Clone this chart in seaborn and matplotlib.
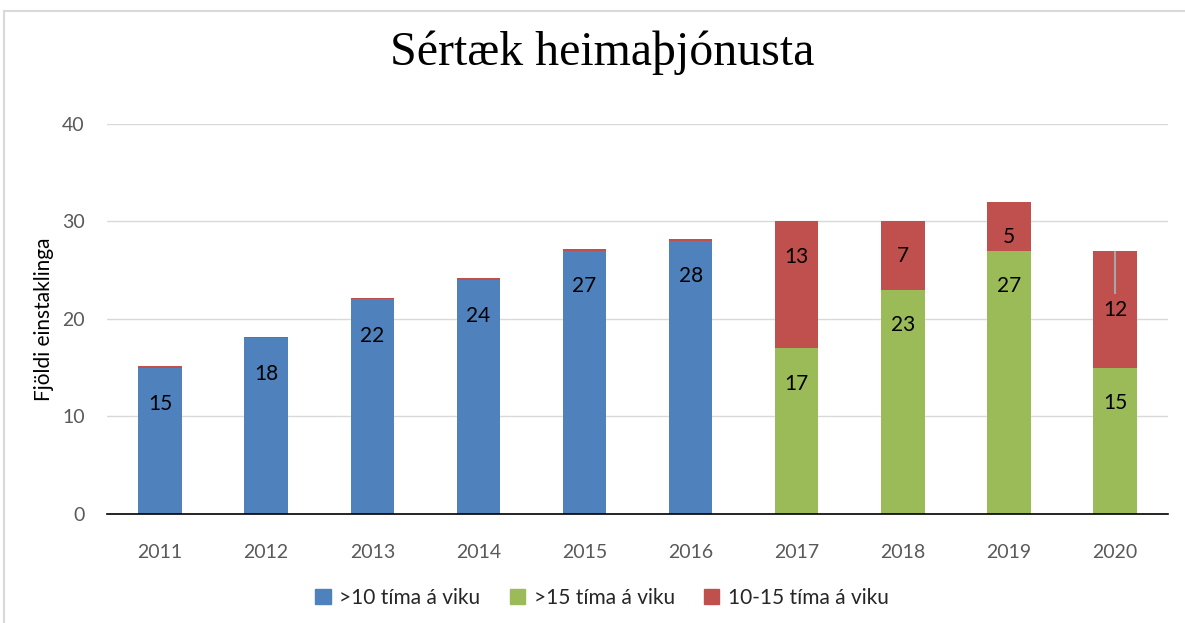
import numpy as np
import pandas as pd
import matplotlib
matplotlib.use("Agg")
import matplotlib.pyplot as plt
import seaborn as sns

years = ["2011", "2012", "2013", "2014", "2015", "2016", "2017", "2018", "2019", "2020"]
over10 = [15, 18, 22, 24, 27, 28, 0, 0, 0, 0]
over15 = [0, 0, 0, 0, 0, 0, 17, 23, 27, 15]
mid10_15 = [0.2, 0.2, 0.2, 0.2, 0.2, 0.2, 13, 7, 5, 12]

# where the value labels sit (in data units), as placed in the original
label_pos_over10 = [11.3, 14.4, 18.3, 20.3, 23.4, 24.4]
label_pos_over15 = [13.3, 19.4, 23.4, 11.4]
label_pos_mid = [26.4, 26.5, 28.4, 20.9]

series_names = [">10 tíma á viku", ">15 tíma á viku", "10-15 tíma á viku"]
colors = ["#4F81BD", "#9BBB59", "#C0504D"]

sns.set_style("white")
plt.rcParams["font.family"] = ["Lato", "DejaVu Sans"]

fig = plt.figure(figsize=(11.85, 6.23), dpi=100)
ax = fig.add_axes([0.0903, 0.175, 0.8954, 0.626])

base = pd.DataFrame({
    "year": years * 2,
    "value": over10 + over15,
    "series": [series_names[0]] * len(years) + [series_names[1]] * len(years),
})
base = base[base["value"] > 0]

sns.barplot(data=base, x="year", y="value", hue="series", order=years,
            hue_order=series_names[:2], palette=colors[:2], dodge=False,
            width=0.41, saturation=1, linewidth=0, ax=ax, legend=False)

bottoms = np.array(over10) + np.array(over15)
ax.bar(np.arange(len(years)), mid10_15, bottom=bottoms, width=0.41,
       color=colors[2], linewidth=0, label=series_names[2])

# value labels
x = np.arange(len(years))
pos = [(i, over10[i]) for i in range(len(years)) if over10[i] > 0]
for (i, v), y in zip(pos, label_pos_over10):
    ax.text(x[i], y, f"{v}", ha="center", va="center", fontsize=15, color="black")
pos = [(i, over15[i]) for i in range(len(years)) if over15[i] > 0]
for (i, v), y in zip(pos, label_pos_over15):
    ax.text(x[i], y, f"{v}", ha="center", va="center", fontsize=15, color="black")
pos = [(i, mid10_15[i]) for i in range(len(years)) if mid10_15[i] >= 1]
for (i, v), y in zip(pos, label_pos_mid):
    ax.text(x[i], y, f"{v:.0f}", ha="center", va="center", fontsize=15, color="black")

# leader line of the moved 2020 label
last = len(years) - 1
ax.vlines(x[last], label_pos_mid[-1] + 1.7, bottoms[last] + mid10_15[last],
          color="#A6A6A6", linewidth=1.5)

ax.set_ylim(0, 40)
ax.set_xlim(-0.5, 9.5)
ax.set_yticks([0, 10, 20, 30, 40])
ax.yaxis.grid(True, color="#D9D9D9", linewidth=1)
ax.set_axisbelow(True)
for s in ["top", "right", "left"]:
    ax.spines[s].set_visible(False)
ax.spines["bottom"].set_color("black")
ax.spines["bottom"].set_linewidth(1.2)
ax.tick_params(axis="both", length=0, labelsize=14, labelcolor="#595959")
ax.tick_params(axis="y", pad=16)
ax.tick_params(axis="x", pad=21.5)
ax.set_xlabel("")
ax.set_ylabel("Fjöldi einstaklinga", fontsize=15, color="black", labelpad=6)

fig.text(0.508, 0.915, "Sértæk heimaþjónusta", family="Liberation Serif",
         fontsize=34.5, ha="center", va="center", color="black")

handles = [plt.Rectangle((0, 0), 1, 1, color=c) for c in colors]
fig.legend(handles, series_names, loc="center", bbox_to_anchor=(0.508, 0.04), ncol=3,
           frameon=False, fontsize=15, handlelength=0.75, handleheight=0.75,
           handletextpad=0.4, columnspacing=1.4)

frame = plt.Rectangle((0.003, -0.1), 1.2, 1.083, transform=fig.transFigure,
                      fill=False, edgecolor="#D9D9D9", linewidth=1.5)
fig.patches.append(frame)

fig.savefig("out.png", dpi=100)
